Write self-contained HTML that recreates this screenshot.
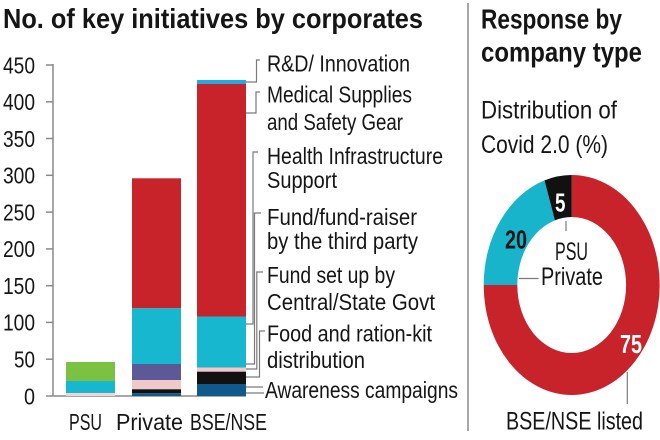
<!DOCTYPE html>
<html>
<head>
<meta charset="utf-8">
<style>
  html,body{margin:0;padding:0;background:#fff;}
  svg{display:block;}
  text{font-family:"Liberation Sans",sans-serif;fill:#151515;}
  .b{font-weight:bold;}
</style>
</head>
<body>
<svg width="660" height="440" viewBox="0 0 660 440" xmlns="http://www.w3.org/2000/svg">
  <rect width="660" height="440" fill="#fff"/>

  <!-- Title -->
  <text class="b" x="3" y="28" font-size="28" textLength="420" lengthAdjust="spacingAndGlyphs">No. of key initiatives by corporates</text>

  <!-- Y axis -->
  <g stroke="#8a8a8a" stroke-width="1.5" fill="none">
    <line x1="53" y1="64" x2="53" y2="396"/>
    <line x1="46" y1="396" x2="246" y2="396"/>
    <line x1="46" y1="65" x2="53" y2="65"/>
    <line x1="46" y1="101.8" x2="53" y2="101.8"/>
    <line x1="46" y1="138.5" x2="53" y2="138.5"/>
    <line x1="46" y1="175.3" x2="53" y2="175.3"/>
    <line x1="46" y1="212.1" x2="53" y2="212.1"/>
    <line x1="46" y1="248.9" x2="53" y2="248.9"/>
    <line x1="46" y1="285.7" x2="53" y2="285.7"/>
    <line x1="46" y1="322.4" x2="53" y2="322.4"/>
    <line x1="46" y1="359.2" x2="53" y2="359.2"/>
  </g>
  <g font-size="23">
    <text x="3" y="73.3" textLength="32" lengthAdjust="spacingAndGlyphs">450</text>
    <text x="3" y="110.1" textLength="32" lengthAdjust="spacingAndGlyphs">400</text>
    <text x="3" y="146.8" textLength="32" lengthAdjust="spacingAndGlyphs">350</text>
    <text x="3" y="183.6" textLength="32" lengthAdjust="spacingAndGlyphs">300</text>
    <text x="3" y="220.4" textLength="32" lengthAdjust="spacingAndGlyphs">250</text>
    <text x="3" y="257.2" textLength="32" lengthAdjust="spacingAndGlyphs">200</text>
    <text x="3" y="294" textLength="32" lengthAdjust="spacingAndGlyphs">150</text>
    <text x="3" y="330.7" textLength="32" lengthAdjust="spacingAndGlyphs">100</text>
    <text x="14" y="367.5" textLength="21" lengthAdjust="spacingAndGlyphs">50</text>
    <text x="24" y="404.3" textLength="11" lengthAdjust="spacingAndGlyphs">0</text>
  </g>

  <!-- PSU bar -->
  <rect x="66" y="362" width="49" height="19" fill="#7bc142"/>
  <rect x="66" y="381" width="49" height="12" fill="#17b8cf"/>
  <rect x="66" y="393" width="49" height="3" fill="#f2d4d4"/>

  <!-- Private bar -->
  <rect x="132" y="178.3" width="49" height="130" fill="#c8232b"/>
  <rect x="132" y="308.3" width="49" height="55.7" fill="#17b8cf"/>
  <rect x="132" y="364" width="49" height="16" fill="#5b5a97"/>
  <rect x="132" y="380" width="49" height="9.3" fill="#f1c9c9"/>
  <rect x="132" y="389.3" width="49" height="4" fill="#111"/>
  <rect x="132" y="393.3" width="49" height="2.7" fill="#0f5a8a"/>

  <!-- BSE/NSE bar -->
  <rect x="197" y="80" width="49" height="4" fill="#26a8e0"/>
  <rect x="197" y="84" width="49" height="232.5" fill="#c8232b"/>
  <rect x="197" y="316.5" width="49" height="51" fill="#17b8cf"/>
  <rect x="197" y="367.5" width="49" height="4.2" fill="#f1c9c9"/>
  <rect x="197" y="371.7" width="49" height="12.3" fill="#111"/>
  <rect x="197" y="384" width="49" height="12" fill="#0f5a8a"/>

  <!-- X labels -->
  <g font-size="23">
    <text x="69" y="430" textLength="33" lengthAdjust="spacingAndGlyphs">PSU</text>
    <text x="116" y="430" textLength="67" lengthAdjust="spacingAndGlyphs">Private</text>
    <text x="190" y="430" textLength="77" lengthAdjust="spacingAndGlyphs">BSE/NSE</text>
  </g>

  <!-- Legend leader lines -->
  <g stroke="#7a7a7a" stroke-width="1.2" fill="none">
    <polyline points="260,60 256.5,60 256.5,82 246,82"/>
    <polyline points="260,92 256,92 256,113 246,113"/>
    <polyline points="258,152 253,152 253,324 246,324"/>
    <polyline points="261,213 254.5,213 254.5,364 246,364"/>
    <polyline points="263,272 256.8,272 256.8,369 246,369"/>
    <polyline points="265,331 259.5,331 259.5,377 246,377"/>
    <polyline points="246,387 263,387"/>
    <polyline points="246,393 264,393"/>
  </g>

  <!-- Legend text -->
  <g font-size="23">
    <text x="267" y="71.5" textLength="143" lengthAdjust="spacingAndGlyphs">R&amp;D/ Innovation</text>
    <text x="267" y="102.5" textLength="145" lengthAdjust="spacingAndGlyphs">Medical Supplies</text>
    <text x="267" y="130" textLength="136" lengthAdjust="spacingAndGlyphs">and Safety Gear</text>
    <text x="267" y="164" textLength="176" lengthAdjust="spacingAndGlyphs">Health Infrastructure</text>
    <text x="267" y="188" textLength="70" lengthAdjust="spacingAndGlyphs">Support</text>
    <text x="267" y="225" textLength="150" lengthAdjust="spacingAndGlyphs">Fund/fund-raiser</text>
    <text x="267" y="249" textLength="151" lengthAdjust="spacingAndGlyphs">by the third party</text>
    <text x="267" y="283" textLength="128" lengthAdjust="spacingAndGlyphs">Fund set up by</text>
    <text x="267" y="310" textLength="168" lengthAdjust="spacingAndGlyphs">Central/State Govt</text>
    <text x="267" y="341.5" textLength="165" lengthAdjust="spacingAndGlyphs">Food and ration-kit</text>
    <text x="267" y="368" textLength="98" lengthAdjust="spacingAndGlyphs">distribution</text>
    <text x="265" y="398" textLength="193" lengthAdjust="spacingAndGlyphs">Awareness campaigns</text>
  </g>

  <!-- Separator -->
  <line x1="468" y1="3" x2="468" y2="431" stroke="#8a8a8a" stroke-width="1.5"/>

  <!-- Right panel titles -->
  <text class="b" x="481" y="28.5" font-size="28" textLength="141" lengthAdjust="spacingAndGlyphs">Response by</text>
  <text class="b" x="481" y="61.5" font-size="28" textLength="161" lengthAdjust="spacingAndGlyphs">company type</text>
  <text x="481" y="118.5" font-size="25" textLength="136" lengthAdjust="spacingAndGlyphs">Distribution of</text>
  <text x="481" y="153" font-size="25" textLength="127" lengthAdjust="spacingAndGlyphs">Covid 2.0 (%)</text>

  <!-- Donut -->
  <g transform="translate(571.7,285) scale(0.8,1)">
    <path d="M0,-110 A110,110 0 1 1 -110,0 L-68,0 A68,68 0 1 0 0,-68 Z" fill="#c8232b"/>
    <path d="M-110,0 A110,110 0 0 1 -33.99,-104.62 L-21.01,-64.67 A68,68 0 0 0 -68,0 Z" fill="#17b4cc"/>
    <path d="M-33.99,-104.62 A110,110 0 0 1 0,-110 L0,-68 A68,68 0 0 0 -21.01,-64.67 Z" fill="#111"/>
  </g>

  <!-- Donut labels -->
  <text class="b" x="555" y="211.5" font-size="26" textLength="10.5" lengthAdjust="spacingAndGlyphs" style="fill:#fff">5</text>
  <text class="b" x="505" y="248.5" font-size="26" textLength="22" lengthAdjust="spacingAndGlyphs">20</text>
  <text class="b" x="620" y="353" font-size="26" textLength="22" lengthAdjust="spacingAndGlyphs" style="fill:#fff">75</text>
  <text x="555" y="260" font-size="25" textLength="33" lengthAdjust="spacingAndGlyphs">PSU</text>
  <text x="541" y="285" font-size="25" textLength="62" lengthAdjust="spacingAndGlyphs">Private</text>
  <text x="506" y="429.5" font-size="25" textLength="137" lengthAdjust="spacingAndGlyphs">BSE/NSE listed</text>

  <g stroke="#7a7a7a" stroke-width="1.2" fill="none">
    <line x1="566" y1="221" x2="566" y2="231"/>
    <line x1="519" y1="278.5" x2="538.5" y2="278.5"/>
    <line x1="627.3" y1="372" x2="627.3" y2="404"/>
  </g>
</svg>
</body>
</html>
